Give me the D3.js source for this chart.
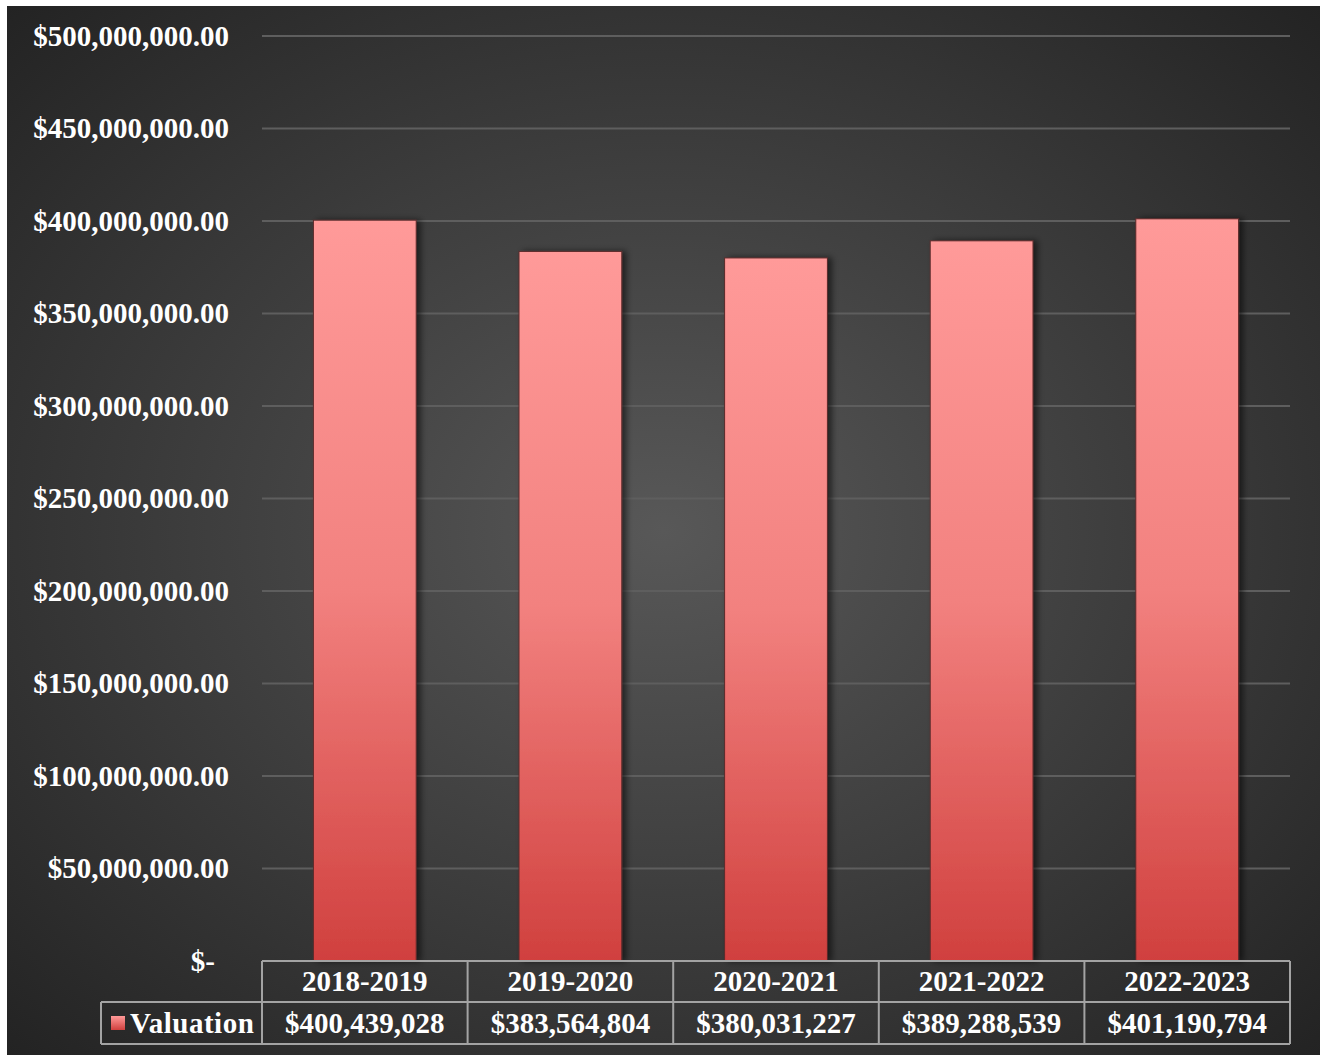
<!DOCTYPE html>
<html>
<head>
<meta charset="utf-8">
<script src="https://cdn.jsdelivr.net/npm/d3@7.9.0/dist/d3.min.js"></script>
<style>
  html, body { margin: 0; padding: 0; background: #fff; }
  svg { display: block; }
  text { font-family: "Liberation Serif", "Times New Roman", serif; font-weight: bold; fill: #fff; }
</style>
</head>
<body>
<svg id="chart" width="1323" height="1055"></svg>
<script>
const seasons = ['2018-2019', '2019-2020', '2020-2021', '2021-2022', '2022-2023'];
const valuation = [400439028, 383564804, 380031227, 389288539, 401190794];
const tickValues = [0, 50e6, 100e6, 150e6, 200e6, 250e6, 300e6, 350e6, 400e6, 450e6, 500e6];
const seriesName = 'Valuation';

const svg = d3.select('#chart');
const defs = svg.append('defs');

// background: dark radial gradient
const bg = defs.append('radialGradient').attr('id', 'bg')
  .attr('cx', '50%').attr('cy', '50%').attr('r', '72%');
bg.append('stop').attr('offset', '0%').attr('stop-color', '#585858');
bg.append('stop').attr('offset', '100%').attr('stop-color', '#222');

const barGrad = defs.append('linearGradient').attr('id', 'bar')
  .attr('x1', 0).attr('y1', 0).attr('x2', 0).attr('y2', 1);
barGrad.append('stop').attr('offset', '0%').attr('stop-color', '#ff9a99');
barGrad.append('stop').attr('offset', '50%').attr('stop-color', '#f2817f');
barGrad.append('stop').attr('offset', '100%').attr('stop-color', '#d0403e');

const keyGrad = defs.append('linearGradient').attr('id', 'key')
  .attr('x1', 0).attr('y1', 0).attr('x2', 0).attr('y2', 1);
keyGrad.append('stop').attr('offset', '0%').attr('stop-color', '#ff9a99');
keyGrad.append('stop').attr('offset', '100%').attr('stop-color', '#d0403e');

const shadow = defs.append('filter').attr('id', 'shadow')
  .attr('x', '-20%').attr('y', '-5%').attr('width', '150%').attr('height', '110%');
shadow.append('feDropShadow').attr('dx', 4).attr('dy', 0).attr('stdDeviation', 3)
  .attr('flood-color', '#000').attr('flood-opacity', 0.55);

svg.append('rect').attr('x', 7).attr('y', 6).attr('width', 1313).attr('height', 1049)
  .attr('fill', 'url(#bg)');

const plotLeft = 262, plotRight = 1290, plotTop = 36, plotBottom = 961;

const x = d3.scaleBand().domain(seasons).range([plotLeft, plotRight]).paddingInner(0.5).paddingOuter(0.25);
const xCell = d3.scaleBand().domain(seasons).range([plotLeft, plotRight]);
const y = d3.scaleLinear().domain([0, 500e6]).range([plotBottom, plotTop]);

// gridlines
svg.append('g')
  .selectAll('line')
  .data(tickValues.filter(d => d > 0))
  .join('line')
  .attr('x1', plotLeft).attr('x2', plotRight)
  .attr('y1', d => y(d)).attr('y2', d => y(d))
  .attr('stroke', '#5e5e5e').attr('stroke-width', 2);

// y labels
const fmt = d3.format('$,.2f');
svg.append('g')
  .selectAll('text')
  .data(tickValues)
  .join('text')
  .attr('x', d => d === 0 ? 215 : 229)
  .attr('y', d => y(d))
  .attr('dy', '0.33em')
  .attr('text-anchor', 'end')
  .style('font-size', '29px')
  .text(d => d === 0 ? '$-' : fmt(d));

// bars
svg.append('g')
  .selectAll('rect')
  .data(valuation)
  .join('rect')
  .attr('x', (d, i) => x(seasons[i]))
  .attr('y', d => y(d))
  .attr('width', x.bandwidth())
  .attr('height', d => plotBottom - y(d))
  .attr('fill', 'url(#bar)')
  .attr('stroke', '#5a2a2a').attr('stroke-width', 1)
  .attr('filter', 'url(#shadow)');

// data table
const rowTop = plotBottom, rowMid = 1002, rowBot = 1044, legLeft = 101;
const table = svg.append('g').attr('fill', 'none').attr('stroke', '#a3a3a3').attr('stroke-width', 2);
table.append('line').attr('x1', plotLeft).attr('x2', plotRight).attr('y1', rowTop).attr('y2', rowTop);
table.append('line').attr('x1', legLeft).attr('x2', plotRight).attr('y1', rowMid).attr('y2', rowMid);
table.append('line').attr('x1', legLeft).attr('x2', plotRight).attr('y1', rowBot).attr('y2', rowBot);
table.append('line').attr('x1', legLeft).attr('x2', legLeft).attr('y1', rowMid).attr('y2', rowBot);
table.selectAll('line.v')
  .data(seasons.map(s => xCell(s)).concat([plotRight]))
  .join('line')
  .attr('class', 'v')
  .attr('x1', d => d).attr('x2', d => d)
  .attr('y1', rowTop).attr('y2', rowBot);

svg.append('g')
  .selectAll('text')
  .data(seasons)
  .join('text')
  .attr('x', d => xCell(d) + xCell.bandwidth() / 2)
  .attr('y', (rowTop + rowMid) / 2)
  .attr('dy', '0.33em')
  .attr('text-anchor', 'middle')
  .style('font-size', '29px')
  .text(d => d);

const fmtVal = d3.format('$,.0f');
svg.append('g')
  .selectAll('text')
  .data(valuation)
  .join('text')
  .attr('x', (d, i) => xCell(seasons[i]) + xCell.bandwidth() / 2)
  .attr('y', (rowMid + rowBot) / 2)
  .attr('dy', '0.33em')
  .attr('text-anchor', 'middle')
  .style('font-size', '29px')
  .text(d => fmtVal(d));

svg.append('rect').attr('x', 111).attr('y', 1016).attr('width', 14).attr('height', 14)
  .attr('fill', 'url(#key)');
svg.append('text').attr('x', 130).attr('y', (rowMid + rowBot) / 2).attr('dy', '0.33em')
  .style('font-size', '29px').style('letter-spacing', '0.5px')
  .text(seriesName);
</script>
</body>
</html>
